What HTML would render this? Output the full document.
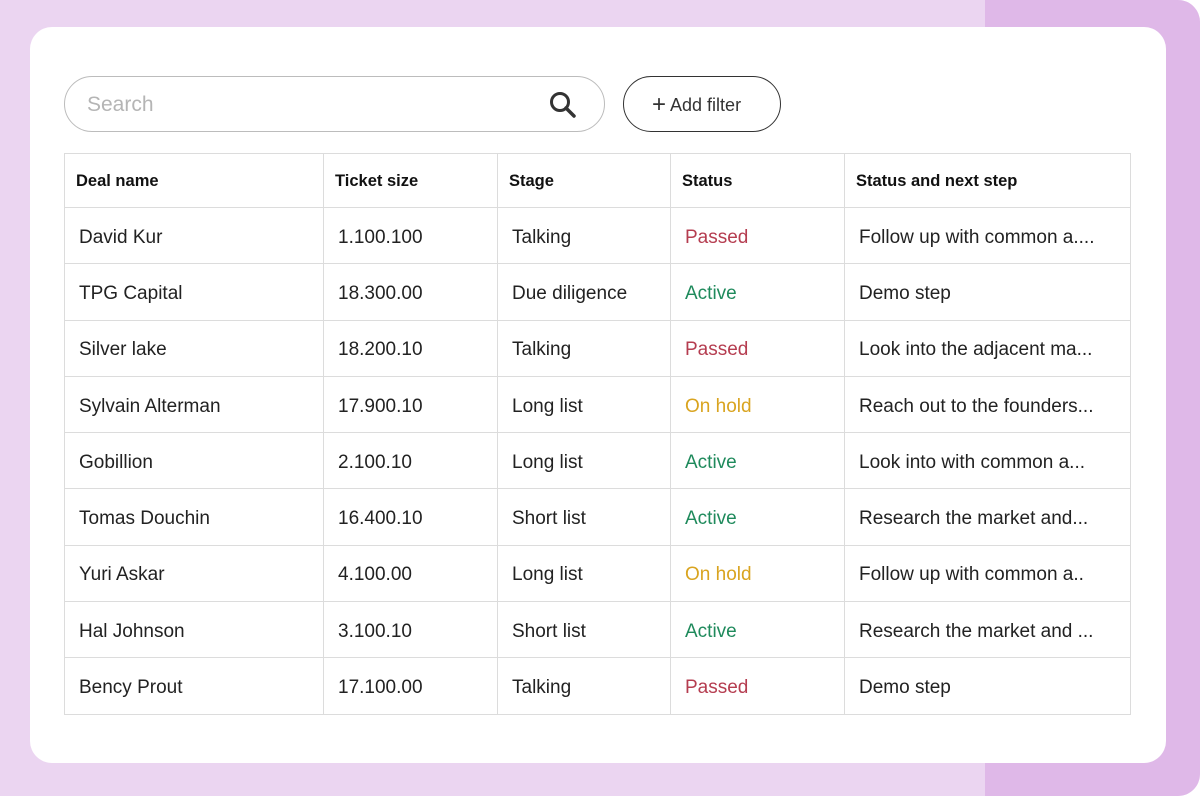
<!DOCTYPE html>
<html><head><meta charset="utf-8"><style>
*{margin:0;padding:0;box-sizing:border-box}
body{width:1200px;height:796px;overflow:hidden;background:#fff;font-family:"Liberation Sans",sans-serif;}
.bg{position:absolute;left:0;top:0;width:1200px;height:796px;background:#ebd5f1;border-radius:0 22px 22px 0;overflow:hidden}
.strip{position:absolute;left:985px;top:0;width:215px;height:796px;background:#dfb8e8}
.card{position:absolute;left:30px;top:27px;width:1136px;height:736px;background:#fff;border-radius:22px}
.search{position:absolute;left:64px;top:76px;width:541px;height:56px;border:1.5px solid #bcbcbc;border-radius:28px}
.search span{position:absolute;left:22px;top:16px;font-size:21px;color:#b5b5b5}
.filter{position:absolute;left:623px;top:76px;width:158px;height:56px;border:1.5px solid #333;border-radius:28px;font-size:18px;color:#333;line-height:53px;padding-left:28px}
table{position:absolute;left:64px;top:153px;width:1066px;border-collapse:collapse;table-layout:fixed}
td,th{border:1.5px solid #dcdcdc;font-size:19px;color:#222;text-align:left;padding-left:14px;padding-top:4px;height:56.3px;white-space:nowrap;overflow:hidden}
th{font-size:16.5px;font-weight:bold;height:54px;padding-left:11px;padding-top:2px;color:#111}
.p{color:#b53d50}.a{color:#1f8a5c}.h{color:#d9a420}
</style></head><body>
<div class="bg"><div class="strip"></div></div>
<div class="card"></div>
<div class="search"><span>Search</span>
<svg style="position:absolute;left:482px;top:12px" width="32" height="32" viewBox="0 0 32 32"><circle cx="13" cy="13" r="8.5" fill="none" stroke="#333" stroke-width="3"/><line x1="19" y1="19" x2="27" y2="27" stroke="#333" stroke-width="3.5" stroke-linecap="round"/></svg></div>
<div class="filter"><span style="font-size:24px;position:relative;top:1px">+</span> Add filter</div>
<table>
<colgroup><col style="width:259px"><col style="width:174px"><col style="width:173px"><col style="width:174px"><col style="width:286px"></colgroup>
<tr><th>Deal name</th><th>Ticket size</th><th>Stage</th><th>Status</th><th>Status and next step</th></tr>
<tr><td>David Kur</td><td>1.100.100</td><td>Talking</td><td class="p">Passed</td><td>Follow up with common a....</td></tr>
<tr><td>TPG Capital</td><td>18.300.00</td><td>Due diligence</td><td class="a">Active</td><td>Demo step</td></tr>
<tr><td>Silver lake</td><td>18.200.10</td><td>Talking</td><td class="p">Passed</td><td>Look into the adjacent ma...</td></tr>
<tr><td>Sylvain Alterman</td><td>17.900.10</td><td>Long list</td><td class="h">On hold</td><td>Reach out to the founders...</td></tr>
<tr><td>Gobillion</td><td>2.100.10</td><td>Long list</td><td class="a">Active</td><td>Look into with common a...</td></tr>
<tr><td>Tomas Douchin</td><td>16.400.10</td><td>Short list</td><td class="a">Active</td><td>Research the market and...</td></tr>
<tr><td>Yuri Askar</td><td>4.100.00</td><td>Long list</td><td class="h">On hold</td><td>Follow up with common a..</td></tr>
<tr><td>Hal Johnson</td><td>3.100.10</td><td>Short list</td><td class="a">Active</td><td>Research the market and ...</td></tr>
<tr><td>Bency Prout</td><td>17.100.00</td><td>Talking</td><td class="p">Passed</td><td>Demo step</td></tr>
</table>
</body></html>
